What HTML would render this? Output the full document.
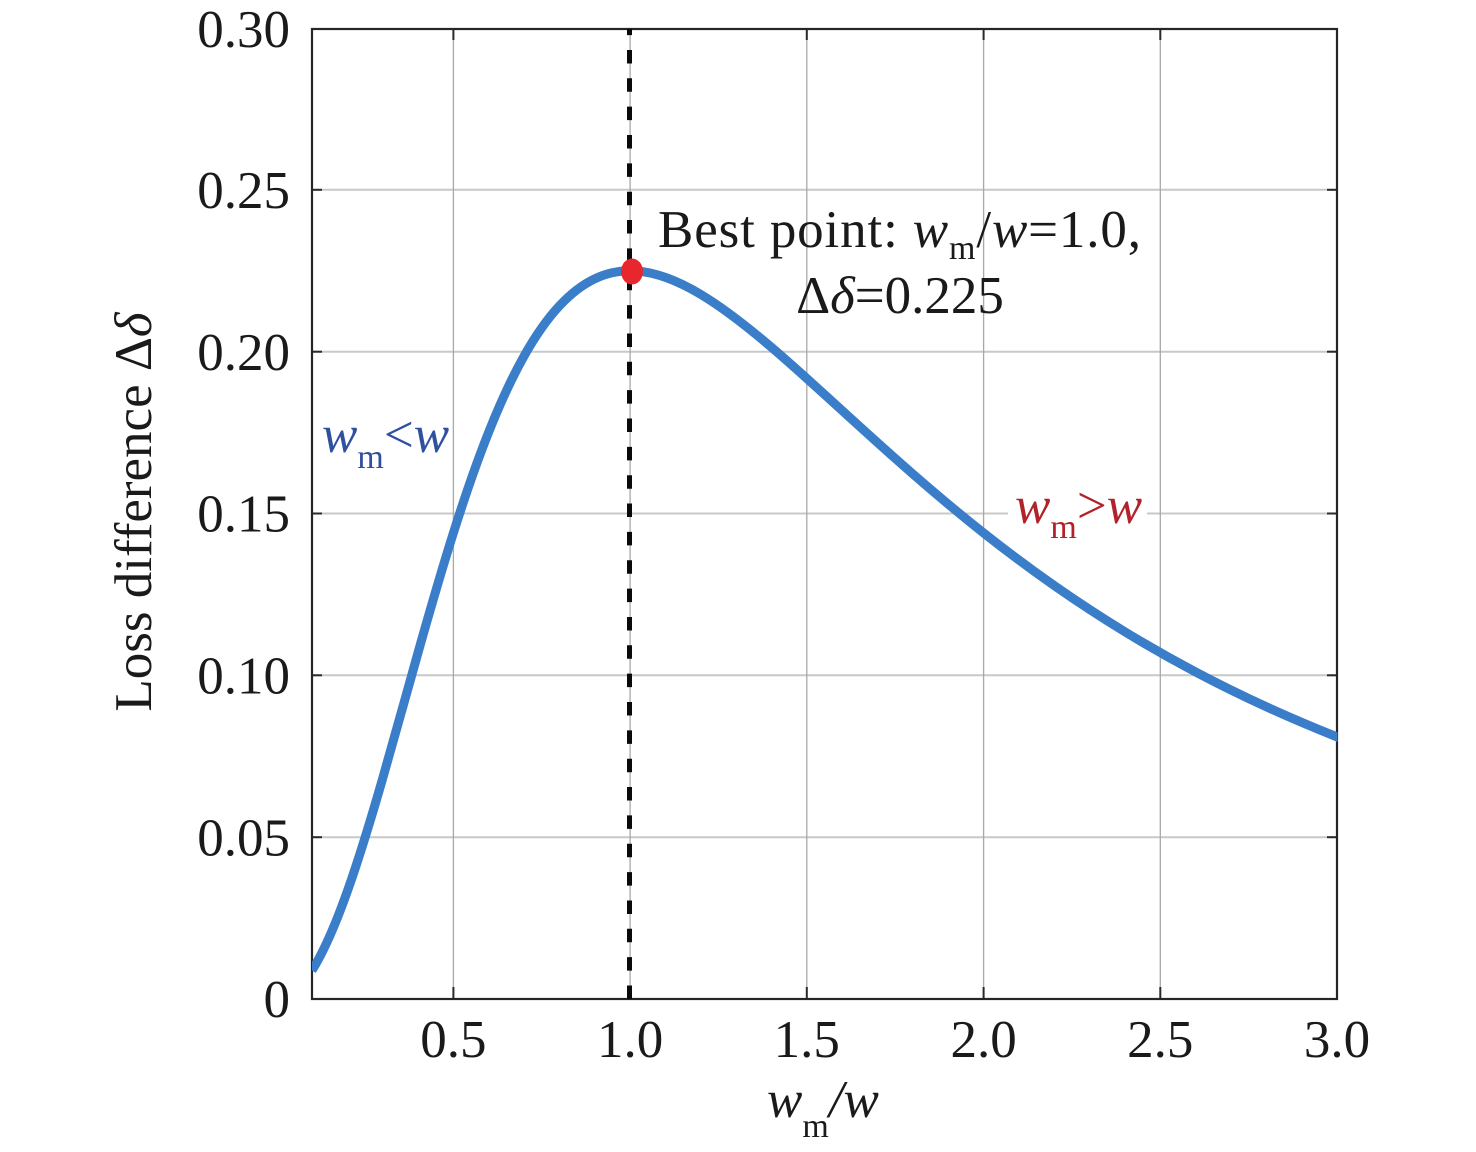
<!DOCTYPE html>
<html>
<head>
<meta charset="utf-8">
<style>
  html, body { margin: 0; padding: 0; background: #ffffff; }
  svg { display: block; }
  text { font-family: "Liberation Serif", "DejaVu Serif", serif; }
</style>
</head>
<body>
<svg width="1476" height="1152" viewBox="0 0 1476 1152" xmlns="http://www.w3.org/2000/svg">
  <rect x="0" y="0" width="1476" height="1152" fill="#ffffff"/>
  <defs>
    <clipPath id="plot">
      <rect x="312" y="28" width="1025.5" height="971"/>
    </clipPath>
  </defs>

  <!-- horizontal gridlines -->
  <g stroke="#c8c8c8" stroke-width="2">
    <line x1="312" y1="837.2" x2="1337" y2="837.2"/>
    <line x1="312" y1="675.3" x2="1337" y2="675.3"/>
    <line x1="312" y1="513.5" x2="1337" y2="513.5"/>
    <line x1="312" y1="351.7" x2="1337" y2="351.7"/>
    <line x1="312" y1="189.8" x2="1337" y2="189.8"/>
  </g>
  <!-- vertical gridlines -->
  <g stroke="#a8a8a8" stroke-width="1.3">
    <line x1="453.4" y1="29" x2="453.4" y2="999"/>
    <line x1="630.1" y1="29" x2="630.1" y2="999"/>
    <line x1="806.8" y1="29" x2="806.8" y2="999"/>
    <line x1="983.6" y1="29" x2="983.6" y2="999"/>
    <line x1="1160.3" y1="29" x2="1160.3" y2="999"/>
  </g>

  <!-- ticks -->
  <g stroke="#2a2a2a" stroke-width="2">
    <line x1="312" y1="837.2" x2="322" y2="837.2"/>
    <line x1="312" y1="675.3" x2="322" y2="675.3"/>
    <line x1="312" y1="513.5" x2="322" y2="513.5"/>
    <line x1="312" y1="351.7" x2="322" y2="351.7"/>
    <line x1="312" y1="189.8" x2="322" y2="189.8"/>
    <line x1="1327" y1="837.2" x2="1337" y2="837.2"/>
    <line x1="1327" y1="675.3" x2="1337" y2="675.3"/>
    <line x1="1327" y1="513.5" x2="1337" y2="513.5"/>
    <line x1="1327" y1="351.7" x2="1337" y2="351.7"/>
    <line x1="1327" y1="189.8" x2="1337" y2="189.8"/>
    <line x1="453.4" y1="999" x2="453.4" y2="987"/>
    <line x1="806.8" y1="999" x2="806.8" y2="987"/>
    <line x1="983.6" y1="999" x2="983.6" y2="987"/>
    <line x1="1160.3" y1="999" x2="1160.3" y2="987"/>
    <line x1="453.4" y1="29" x2="453.4" y2="40"/>
    <line x1="806.8" y1="29" x2="806.8" y2="40"/>
    <line x1="983.6" y1="29" x2="983.6" y2="40"/>
    <line x1="1160.3" y1="29" x2="1160.3" y2="40"/>
  </g>

  <!-- axes box -->
  <rect x="312" y="29" width="1025" height="970" fill="none" stroke="#262626" stroke-width="2.2"/>

  <!-- curve -->
  <path clip-path="url(#plot)" fill="none" stroke="#3a7dc9" stroke-width="9" stroke-linecap="butt" stroke-linejoin="round"
    d="M312,970.44
       C323.78,951.78 335.57,924.42 347.35,891.27
       C359.13,858.12 370.91,819.28 382.69,778.34
       C394.47,737.40 406.26,694.42 418.04,652.62
       C429.82,610.82 441.60,570.21 453.38,532.92
       C465.16,495.63 476.95,461.67 488.73,432.02
       C500.51,402.37 512.29,377.02 524.07,356.06
       C535.85,335.10 547.64,318.52 559.42,305.84
       C571.20,293.16 582.98,284.37 594.76,278.77
       C606.54,273.17 618.33,270.74 630.11,270.74
       C653.67,270.74 677.24,280.31 700.80,294.43
       C724.36,308.55 747.93,327.22 771.49,347.35
       C795.05,367.48 818.62,389.09 842.18,410.58
       C865.74,432.07 889.31,453.45 912.87,474.00
       C936.43,494.55 960.00,514.28 983.56,532.92
       C1007.12,551.56 1030.69,569.14 1054.25,585.61
       C1077.81,602.08 1101.38,617.47 1124.94,631.83
       C1148.50,646.19 1172.07,659.53 1195.63,671.98
       C1219.19,684.43 1242.76,695.98 1266.32,706.75
       C1289.88,717.52 1313.45,727.51 1340,738.1"/>

  <!-- dashed vertical line -->
  <line x1="629.5" y1="999" x2="629.5" y2="29" stroke="#0a0a0a" stroke-width="5" stroke-dasharray="13.5 14.85"/>

  <!-- best point -->
  <ellipse cx="632" cy="271.5" rx="11" ry="13" fill="#e8262d"/>

  <!-- y tick labels -->
  <g font-size="53" fill="#1a1a1a" text-anchor="end">
    <text x="290" y="1017">0</text>
    <text x="290" y="855.5">0.05</text>
    <text x="290" y="693.5">0.10</text>
    <text x="290" y="531.5">0.15</text>
    <text x="290" y="370">0.20</text>
    <text x="290" y="208">0.25</text>
    <text x="290" y="47">0.30</text>
  </g>

  <!-- x tick labels -->
  <g font-size="53" fill="#1a1a1a" text-anchor="middle">
    <text x="453.4" y="1057">0.5</text>
    <text x="630.1" y="1057">1.0</text>
    <text x="806.8" y="1057">1.5</text>
    <text x="983.6" y="1057">2.0</text>
    <text x="1160.3" y="1057">2.5</text>
    <text x="1337" y="1057">3.0</text>
  </g>

  <!-- x axis label -->
  <text x="767" y="1117" font-size="53" fill="#1a1a1a"><tspan font-style="italic">w</tspan><tspan font-size="34" dy="20">m</tspan><tspan dy="-20" font-style="italic">/w</tspan></text>

  <!-- y axis label -->
  <text transform="translate(151,512) rotate(-90)" font-size="53" fill="#1a1a1a" text-anchor="middle">Loss difference Δ<tspan font-style="italic">δ</tspan></text>

  <!-- annotation -->
  <text x="658" y="247" font-size="53" fill="#1a1a1a" textLength="483" lengthAdjust="spacing">Best point: <tspan font-style="italic">w</tspan><tspan font-size="34" dy="12">m</tspan><tspan dy="-12">/</tspan><tspan font-style="italic">w</tspan>=1.0,</text>
  <text x="900" y="313" font-size="53" fill="#1a1a1a" text-anchor="middle">Δ<tspan font-style="italic">δ</tspan>=0.225</text>

  <!-- wm<w -->
  <text x="322" y="452" font-size="53" fill="#2f4f9f"><tspan font-style="italic">w</tspan><tspan font-size="34" dy="16">m</tspan><tspan dy="-16">&lt;</tspan><tspan font-style="italic">w</tspan></text>

  <!-- wm>w with white background -->
  <rect x="1008" y="492" width="139" height="50" fill="#ffffff"/>
  <text x="1015" y="523" font-size="53" fill="#b2222a"><tspan font-style="italic">w</tspan><tspan font-size="34" dy="15">m</tspan><tspan dy="-15">&gt;</tspan><tspan font-style="italic">w</tspan></text>
</svg>
</body>
</html>
